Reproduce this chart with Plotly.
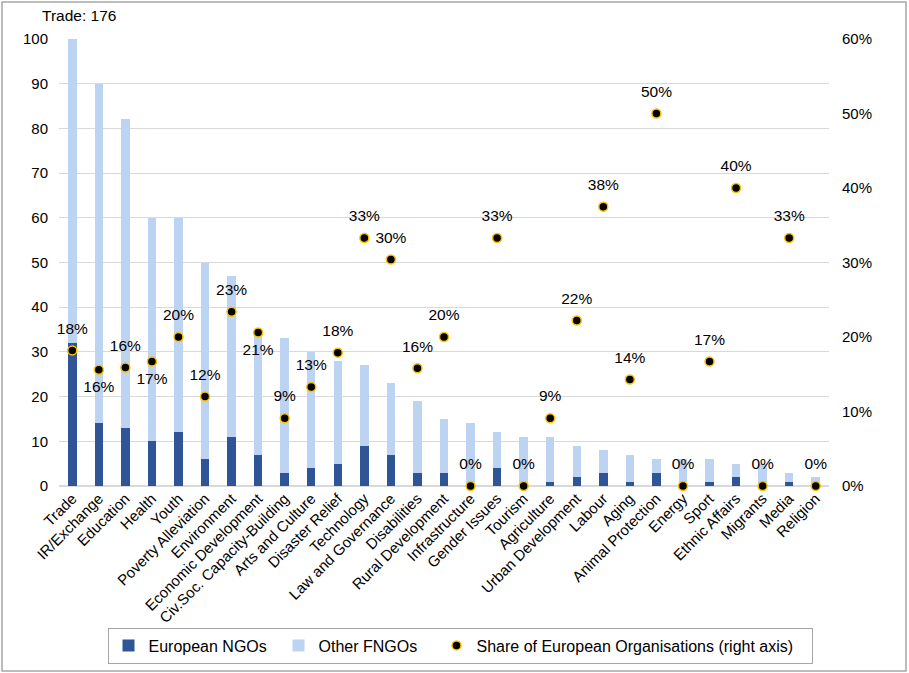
import plotly.graph_objects as go

categories = ["Trade", "IR/Exchange", "Education", "Health", "Youth", "Poverty Alleviation",
              "Environment", "Economic Development", "Civ.Soc. Capacity-Building", "Arts and Culture",
              "Disaster Relief", "Technology", "Law and Governance", "Disabilities", "Rural Development",
              "Infrastructure", "Gender Issues", "Tourism", "Agriculture", "Urban Development",
              "Labour", "Aging", "Animal Protection", "Energy", "Sport", "Ethnic Affairs",
              "Migrants", "Media", "Religion"]
european = [32, 14, 13, 10, 12, 6, 11, 7, 3, 4, 5, 9, 7, 3, 3, 0, 4, 0, 1, 2, 3, 1, 3, 0, 1, 2, 0, 1, 0]
other = [144, 76, 69, 50, 48, 44, 36, 27, 30, 26, 23, 18, 16, 16, 12, 14, 8, 11, 10, 7, 5, 6, 3, 6, 5, 3, 5, 2, 2]
share = [0.182, 0.156, 0.159, 0.167, 0.200, 0.120, 0.234, 0.206, 0.091, 0.133, 0.179, 0.333,
         0.304, 0.158, 0.200, 0.0, 0.333, 0.0, 0.091, 0.222, 0.375, 0.143, 0.500, 0.0, 0.167,
         0.400, 0.0, 0.333, 0.0]
label_below = {"IR/Exchange", "Health", "Economic Development"}
left_ticks = [0, 10, 20, 30, 40, 50, 60, 70, 80, 90, 100]
right_ticks = [0, 0.1, 0.2, 0.3, 0.4, 0.5, 0.6]

label_pos = ["bottom center" if c in label_below else "top center" for c in categories]
label_pad = [15 if c in label_below else 19 for c in categories]

FONT = "Liberation Sans, Arial, sans-serif"
DARK = "#2F5597"
LIGHT = "#BDD3F2"

fig = go.Figure()
fig.add_trace(go.Bar(x=categories, y=european, name="European NGOs", marker_color=DARK,
                     marker_line_width=0, legendwidth=125))
fig.add_trace(go.Bar(x=categories, y=other, name="Other FNGOs", marker_color=LIGHT,
                     marker_line_width=0, legendwidth=113))
fig.add_trace(go.Scatter(x=categories, y=share, name="Share of European Organisations (right axis)",
                         yaxis="y2", mode="markers", legendwidth=330,
                         marker=dict(color="black", size=9, line=dict(color="#FFC000", width=1.5)),
                         cliponaxis=False))
# data labels (invisible larger marker gives the label offset seen in the reference)
fig.add_trace(go.Scatter(x=categories, y=share, yaxis="y2", mode="text+markers", showlegend=False,
                         marker=dict(size=label_pad, opacity=0, color="black"),
                         texttemplate="%{y:.0%}", textposition=label_pos,
                         textfont=dict(size=15.5, color="black", family=FONT),
                         cliponaxis=False, hoverinfo="skip"))

W, H = 909, 673
L, R, T, B = 59, 80, 39, 187
pw, ph = W - L - R, H - T - B

def px(x):
    return (x - L) / pw

def py(y):
    return (H - B - y) / ph

fig.update_layout(
    width=W, height=H,
    margin=dict(l=L, r=R, t=T, b=B, autoexpand=False),
    paper_bgcolor="white", plot_bgcolor="white",
    barmode="stack", bargap=0.68,
    font=dict(family=FONT, size=15, color="black"),
    showlegend=True,
    legend=dict(orientation="h", x=px(460), y=py(645.5), xanchor="center", yanchor="middle",
                bordercolor="#A6A6A6", borderwidth=1, font=dict(size=16, color="black"),
                itemwidth=30, traceorder="normal"),
    xaxis=dict(tickangle=-45, tickfont=dict(size=15, color="black"), showgrid=False,
               ticks="", showline=False, range=[-0.5, len(categories) - 0.5], automargin=False),
    yaxis=dict(range=[0, 100], tickvals=left_ticks, showgrid=True, gridcolor="#D9D9D9",
               gridwidth=1, zeroline=True, zerolinecolor="#D9D9D9", ticks="", showline=False,
               tickfont=dict(size=15, color="black"), ticklabelstandoff=10, automargin=False),
    yaxis2=dict(range=[0, 0.6], tickvals=right_ticks, tickformat=".0%", overlaying="y",
                side="right", showgrid=False, zeroline=False, ticks="", showline=False,
                tickfont=dict(size=15, color="black"), ticklabelstandoff=12, automargin=False),
    annotations=[dict(text="Trade: 176", xref="paper", yref="paper", x=px(40), y=py(16),
                      xanchor="left", yanchor="middle", showarrow=False,
                      font=dict(size=15.5, color="black"))],
    shapes=[dict(type="rect", xref="paper", yref="paper", x0=px(2), x1=px(906), y0=py(671),
                 y1=py(2), line=dict(color="#A6A6A6", width=1.5), layer="below")],
)

fig.write_html("out.html", config={"displayModeBar": False},
               post_script="document.body.style.margin='0';document.body.style.overflow='hidden';")
